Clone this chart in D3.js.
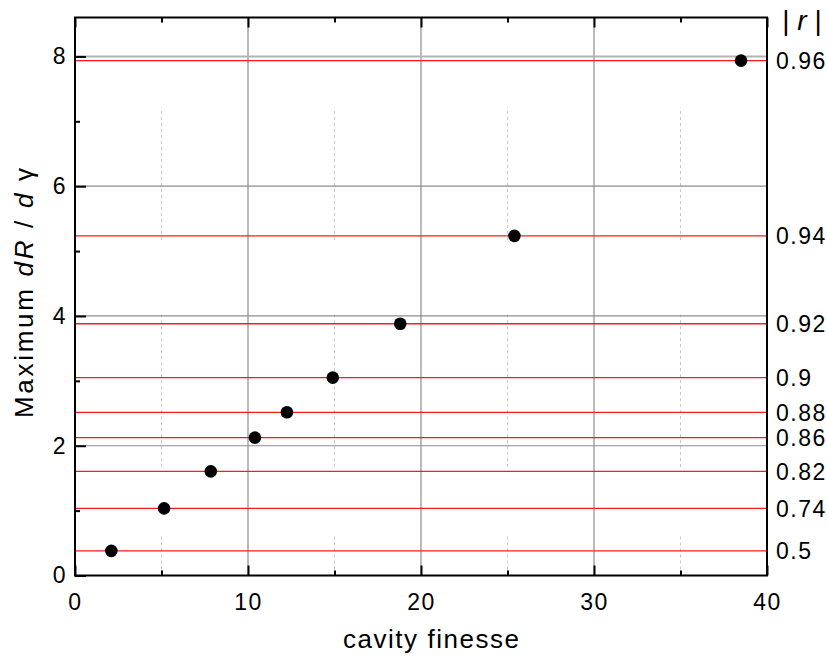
<!DOCTYPE html>
<html>
<head>
<meta charset="utf-8">
<script src="https://cdn.jsdelivr.net/npm/d3@7"></script>
<style>
  body { margin: 0; background: #fff; }
  text { font-family: "Liberation Sans", Arial, sans-serif; fill: #000; }
</style>
</head>
<body>
<div id="chart"></div>
<script>
// values
var finesse = [2.1, 5.15, 7.85, 10.4, 12.25, 14.9, 18.8, 25.4, 38.5];
var maxSlope = [0.38, 1.035, 1.605, 2.125, 2.515, 3.05, 3.88, 5.235, 7.935];
var rLabels = ["0.5", "0.74", "0.82", "0.86", "0.88", "0.9", "0.92", "0.94", "0.96"];
var xTicks = [0, 10, 20, 30, 40];
var xMinor = [5, 15, 25, 35];
var yTicks = [0, 2, 4, 6, 8];
var yMinor = [1, 3, 5, 7];
// pieces of the dotted minor grid that are visible (y data units)
var minorPieces = [[0, 0.62], [1.67, 4.02], [5.17, 7.21]];

function drawChart(container) {
    "use strict";

    var width = 827,
        height = 660,
        margin = {top: 17.5, right: 60, bottom: 84.5, left: 75},
        w = width - margin.left - margin.right,
        h = height - margin.top - margin.bottom;

    var svg = container.append("svg")
        .attr("width", width)
        .attr("height", height);
    var g = svg.append("g")
        .attr("transform", "translate(" + margin.left + "," + margin.top + ")");

    var x = d3.scaleLinear().domain([0, 40]).range([0, w]),
        y = d3.scaleLinear().domain([0, 8.6]).range([h, 0]);

    // dotted minor grid
    xMinor.forEach(function (v) {
        g.selectAll(null).data(minorPieces).enter().append("line")
            .attr("x1", x(v)).attr("x2", x(v))
            .attr("y1", function (d) { return y(d[0]); })
            .attr("y2", function (d) { return y(d[1]); })
            .attr("stroke", "#c8c8c8")
            .attr("stroke-width", 1)
            .attr("stroke-dasharray", "3,3");
    });

    // major grid
    g.selectAll(".vgrid").data(xTicks.slice(1, -1)).enter().append("line")
        .attr("x1", x).attr("x2", x)
        .attr("y1", 0).attr("y2", h)
        .attr("stroke", "#8c8c8c")
        .attr("stroke-width", 1.2);
    g.selectAll(".hgrid").data(yTicks.slice(1)).enter().append("line")
        .attr("x1", 0).attr("x2", w)
        .attr("y1", y).attr("y2", y)
        .attr("stroke", function (d) { return d === 8 ? "#b4b4b4" : "#8c8c8c"; })
        .attr("stroke-width", function (d) { return d === 8 ? 2 : 1.2; });

    // red reference lines at each point's value
    g.selectAll(".ref").data(maxSlope).enter().append("line")
        .attr("x1", 0).attr("x2", w)
        .attr("y1", y).attr("y2", y)
        .attr("stroke", "#ff1a1a")
        .attr("stroke-width", 1.3);

    // points
    g.selectAll(".pt").data(finesse).enter().append("circle")
        .attr("cx", function (d) { return x(d); })
        .attr("cy", function (d, i) { return y(maxSlope[i]); })
        .attr("r", 6.3)
        .attr("fill", "#000");

    // axes (ticks pointing inward)
    var bottom = g.append("g")
        .attr("transform", "translate(0," + h + ")")
        .call(d3.axisBottom(x).tickValues(xTicks).tickSize(-10).tickPadding(18));
    g.append("g")
        .attr("transform", "translate(0," + h + ")")
        .call(d3.axisBottom(x).tickValues(xMinor).tickSize(-5).tickFormat(""));
    g.append("g")
        .call(d3.axisTop(x).tickValues(xTicks).tickSize(-10).tickFormat(""));
    g.append("g")
        .call(d3.axisTop(x).tickValues(xMinor).tickSize(-5).tickFormat(""));
    var left = g.append("g")
        .call(d3.axisLeft(y).tickValues(yTicks).tickSize(-11).tickPadding(8));
    g.append("g")
        .call(d3.axisLeft(y).tickValues(yMinor).tickSize(-5).tickFormat(""));

    g.selectAll(".tick line").attr("stroke", "#000").attr("stroke-width", 2);
    g.selectAll(".domain").remove();
    [bottom, left].forEach(function (a) {
        a.selectAll("text")
            .style("font-size", "23px")
            .style("letter-spacing", "1.5px")
            .attr("fill", "#000");
    });

    // frame
    g.append("rect")
        .attr("width", w).attr("height", h)
        .attr("fill", "none")
        .attr("stroke", "#000")
        .attr("stroke-width", 2);

    // right-hand |r| labels
    g.selectAll(".rlab").data(rLabels).enter().append("text")
        .attr("x", w + 9)
        .attr("y", function (d, i) { return y(maxSlope[i]); })
        .attr("dy", "0.36em")
        .style("font-size", "23px")
        .style("letter-spacing", "1.5px")
        .text(function (d) { return d; });

    var rt = svg.append("text")
        .attr("x", 802).attr("y", 30)
        .attr("text-anchor", "middle")
        .style("font-size", "28px");
    rt.append("tspan").text("| ");
    rt.append("tspan").style("font-style", "italic").text("r");
    rt.append("tspan").text(" |");

    // axis titles
    svg.append("text")
        .attr("x", 431).attr("y", 648)
        .attr("text-anchor", "middle")
        .attr("textLength", 176)
        .style("font-size", "26px")
        .text("cavity finesse");

    var yl = svg.append("text")
        .attr("transform", "translate(33,293) rotate(-90)")
        .attr("text-anchor", "middle")
        .attr("textLength", 250)
        .style("font-size", "26px");
    yl.append("tspan").text("Maximum ");
    yl.append("tspan").style("font-style", "italic").text("dR");
    yl.append("tspan").text(" / ");
    yl.append("tspan").style("font-style", "italic").text("d");
    yl.append("tspan").text(" \u03b3");
}

drawChart(d3.select("#chart"));
</script>
</body>
</html>
